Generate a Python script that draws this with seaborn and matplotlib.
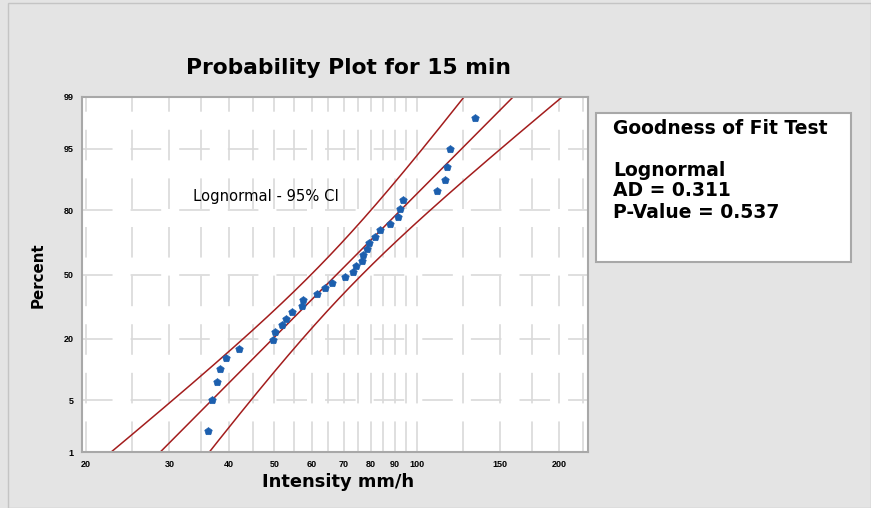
import numpy as np
import pandas as pd
import matplotlib
matplotlib.use("Agg")
import matplotlib.pyplot as plt
import seaborn as sns
from statistics import NormalDist

# ---- data ----
intensity = [36.2, 36.9, 37.8, 38.4, 39.5, 42.1, 49.7, 50.2, 51.9, 53.0, 54.5,
             57.2, 57.5, 61.6, 64.0, 66.2, 70.6, 73.4, 74.4, 76.7, 77.0, 78.5,
             79.3, 81.7, 83.7, 87.8, 91.3, 92.2, 93.6, 110.4, 114.8, 116.0,
             117.7, 132.9]
percent = [2.035, 4.942, 7.849, 10.756, 13.663, 16.570, 19.477, 22.384, 25.291,
           28.198, 31.105, 34.012, 36.919, 39.826, 42.733, 45.640, 48.547,
           51.453, 54.360, 57.267, 60.174, 63.081, 65.988, 68.895, 71.802,
           74.709, 77.616, 80.523, 83.430, 86.337, 89.244, 92.151, 95.058,
           97.965]
fit_loc = 4.215     # lognormal location (ln scale)
fit_scale = 0.369   # lognormal scale
n_obs = 34
y_tick_percent = [1, 5, 20, 50, 80, 95, 99]
y_grid_percent = [5, 20, 50, 80, 95]
x_tick_values = [20, 30, 40, 50, 60, 70, 80, 90, 100, 150, 200]
x_grid_values = [20, 25, 30, 35, 40, 45, 50, 55, 60, 65, 70, 75, 80, 85, 90,
                 95, 100, 125, 150, 175, 200, 225]

nd = NormalDist()
def pz(p):
    return nd.inv_cdf(p / 100.0)

sns.set_style("white")
plt.rcParams['font.family'] = ['Liberation Sans', 'DejaVu Sans']
plt.rcParams['lines.scale_dashes'] = False
plt.rcParams['text.color'] = 'black'
plt.rcParams['xtick.color'] = 'black'
plt.rcParams['ytick.color'] = 'black'

W, H = 871, 508
fig = plt.figure(figsize=(W / 100, H / 100), dpi=100, facecolor='#e4e4e4')

# outer frame
fig.add_artist(plt.Rectangle((8 / W, 0), 1 - 8 / W, 1 - 3 / H, transform=fig.transFigure,
                             fill=False, edgecolor='#c4c4c4', lw=1))

ax = fig.add_axes([82 / W, 1 - 452 / H, (588 - 82) / W, (452 - 97) / H])
ax.set_facecolor('white')

# grid
dash = (0, (22, 13))
for v in x_grid_values:
    ax.axvline(v, color='#d9d9d9', lw=1.2, ls=dash, zorder=0)
for p in y_grid_percent:
    ax.axhline(pz(p), color='#d9d9d9', lw=1.2, ls=dash, zorder=0)

# fitted line and CI bands
zz = np.linspace(pz(0.5), pz(99.5), 200)
half = 1.96 * fit_scale * np.sqrt(1.0 / n_obs + zz ** 2 / (2.0 * n_obs))
lines = pd.DataFrame({
    'z': np.concatenate([zz, zz, zz]),
    'x': np.concatenate([np.exp(fit_loc + fit_scale * zz),
                         np.exp(fit_loc + fit_scale * zz - half),
                         np.exp(fit_loc + fit_scale * zz + half)]),
    'kind': ['fit'] * len(zz) + ['lo'] * len(zz) + ['hi'] * len(zz),
})
sns.lineplot(data=lines, x='x', y='z', units='kind', estimator=None, sort=False,
             color='#a31d1d', lw=1.1, ax=ax, zorder=2)

pts = pd.DataFrame({'x': intensity, 'z': [pz(p) for p in percent]})
sns.scatterplot(data=pts, x='x', y='z', color='#1c5fae', marker='p', s=32,
                edgecolor='#1c5fae', linewidth=0.5, ax=ax, zorder=3)

ax.set_xscale('log')
ax.set_xlim(19.6, 230)
ax.set_ylim(pz(1), pz(99))
ax.set_xticks(x_tick_values)
ax.set_xticklabels([str(v) for v in x_tick_values])
ax.xaxis.set_minor_locator(matplotlib.ticker.NullLocator())
ax.set_yticks([pz(p) for p in y_tick_percent])
ax.set_yticklabels([str(p) for p in y_tick_percent])
ax.tick_params(axis='both', labelsize=6.5, length=3, width=1, color='#a0a0a0',
               labelcolor='black', pad=3)
for lab in ax.get_xticklabels() + ax.get_yticklabels():
    lab.set_fontweight('bold')
for s in ax.spines.values():
    s.set_color('#a8a8a8')
    s.set_linewidth(1.5)
ax.set_xlabel('')
ax.set_ylabel('')

# titles and labels in figure pixels (from top)
def ftxt(x, y, s, **kw):
    fig.text(x / W, 1 - y / H, s, color='black', **kw)

wide = ['DejaVu Sans']
ftxt(193, 196, 'Lognormal - 95% CI', fontsize=10.6, ha='left', va='center', family=wide)
ftxt(348, 68, 'Probability Plot for 15 min', fontsize=15.7, fontweight='bold',
     ha='center', va='center', family=wide)
ftxt(338, 482, 'Intensity mm/h', fontsize=12.9, fontweight='bold', ha='center',
     va='center', family=wide)
ftxt(38, 275, 'Percent', fontsize=10.8, fontweight='bold', ha='center', va='center',
     rotation=90, family=wide)

# goodness of fit box
fig.add_artist(plt.Rectangle((596 / W, 1 - 262 / H), (851 - 596) / W, (262 - 113) / H,
                             transform=fig.transFigure, facecolor='white',
                             edgecolor='#a8a8a8', lw=1.5))
for yy, s in [(128, 'Goodness of Fit Test'), (170, 'Lognormal'),
              (190, 'AD = 0.311'), (213, 'P-Value = 0.537')]:
    ftxt(613, yy, s, fontsize=13.5, fontweight='bold', ha='left', va='center', family=wide)

fig.savefig('out.png', dpi=100, facecolor=fig.get_facecolor())
